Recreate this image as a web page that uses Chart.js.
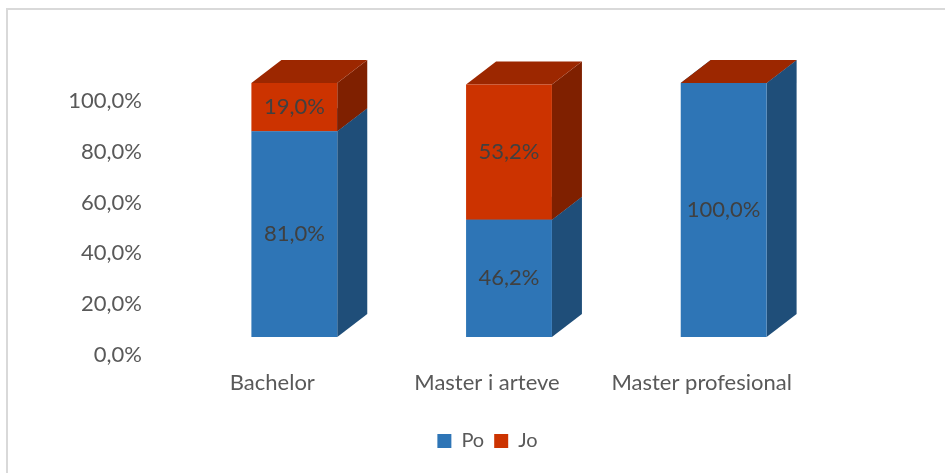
<!DOCTYPE html>
<html>
<head>
<meta charset="utf-8">
<script src="https://cdn.jsdelivr.net/npm/chart.js@4"></script>
<style>
  html, body { margin: 0; padding: 0; background: #fff; overflow: hidden; }
  #frame {
    position: absolute; left: 6px; top: 8px; width: 1000px; height: 500px;
    border: 2px solid #d9d9d9; box-sizing: border-box;
  }
  #wrap { position: absolute; left: 0; top: 0; width: 945px; height: 473px; }
</style>
</head>
<body>
<div id="frame"></div>
<div id="wrap"><canvas id="chart"></canvas></div>
<script>
// --- data ---
const categories = ['Bachelor', 'Master i arteve', 'Master profesional'];
const poValues   = [81.0, 46.2, 100.0];
const joValues   = [19.0, 53.2, 0.0];

// front / side / top colours of the 3D columns
const faces = [
  { front: '#2e75b6', side: '#1f4e79', top: '#255e91' },  // Po
  { front: '#cc3300', side: '#7f2000', top: '#9c2700' }   // Jo
];

const DEPTH_X = 30;   // how far the column depth goes right
const DEPTH_Y = 23;   // and up
const FONT = 'Lato, "Open Sans", sans-serif';

const fmt = v => v.toFixed(1).replace('.', ',') + '%';

// draws the side and top faces behind the flat fronts Chart.js draws
const columns3d = {
  id: 'columns3d',
  beforeDatasetsDraw(chart) {
    const ctx = chart.ctx;
    ctx.save();
    chart.data.datasets.forEach((ds, di) => {
      chart.getDatasetMeta(di).data.forEach(bar => {
        const { x, y, base, width } = bar.getProps(['x', 'y', 'base', 'width'], true);
        const r = x + width / 2, l = x - width / 2;
        // side face
        ctx.fillStyle = faces[di].side;
        ctx.beginPath();
        ctx.moveTo(r, y);
        ctx.lineTo(r + DEPTH_X, y - DEPTH_Y);
        ctx.lineTo(r + DEPTH_X, base - DEPTH_Y);
        ctx.lineTo(r, base);
        ctx.closePath();
        ctx.fill();
        // top face
        ctx.fillStyle = faces[di].top;
        ctx.beginPath();
        ctx.moveTo(l, y);
        ctx.lineTo(l + DEPTH_X, y - DEPTH_Y);
        ctx.lineTo(r + DEPTH_X, y - DEPTH_Y);
        ctx.lineTo(r, y);
        ctx.closePath();
        ctx.fill();
      });
    });
    ctx.restore();
  },
  afterDatasetsDraw(chart) {
    const ctx = chart.ctx;
    ctx.save();
    ctx.font = '22px ' + FONT;
    ctx.fillStyle = '#404040';
    ctx.textAlign = 'center';
    ctx.textBaseline = 'middle';
    chart.data.datasets.forEach((ds, di) => {
      chart.getDatasetMeta(di).data.forEach((bar, i) => {
        const v = ds.data[i];
        if (!v) return;
        const { x, y, base } = bar.getProps(['x', 'y', 'base'], true);
        ctx.fillText(fmt(v), x, (y + base) / 2);
      });
    });
    ctx.restore();
  }
};

new Chart(document.getElementById('chart'), {
  type: 'bar',
  data: {
    labels: categories,
    datasets: [
      { label: 'Po', data: poValues, backgroundColor: faces[0].front, borderWidth: 0 },
      { label: 'Jo', data: joValues, backgroundColor: faces[1].front, borderWidth: 0 }
    ]
  },
  options: {
    responsive: true,
    maintainAspectRatio: false,
    animation: false,
    categoryPercentage: 1,
    barPercentage: 0.4,
    layout: { padding: { top: 83, right: 0, bottom: 12, left: 30 } },
    plugins: {
      tooltip: { enabled: false },
      legend: {
        position: 'bottom',
        labels: {
          color: '#595959',
          font: { family: FONT, size: 20 },
          boxWidth: 14, boxHeight: 14, padding: 10
        }
      }
    },
    scales: {
      x: {
        stacked: true,
        grid: { display: false, drawTicks: false },
        border: { display: false },
        ticks: { color: '#595959', font: { family: FONT, size: 22 }, padding: 33, labelOffset: -22, maxRotation: 0 },
        afterFit: s => { s.height = 84; }
      },
      y: {
        stacked: true,
        min: 0, max: 100,
        grid: { display: false, drawTicks: false },
        border: { display: false },
        ticks: { stepSize: 20, color: '#595959', font: { family: FONT, size: 22 }, padding: 45, labelOffset: 18, callback: v => fmt(v) },
        afterFit: s => { s.width = 157; }
      },
      // empty right-hand axis that only reserves room for the column depth
      yRight: {
        position: 'right',
        min: 0, max: 100,
        grid: { display: false, drawTicks: false },
        border: { display: false },
        ticks: { display: false },
        afterFit: s => { s.width = 114; }
      }
    }
  },
  plugins: [columns3d]
});
</script>
</body>
</html>
